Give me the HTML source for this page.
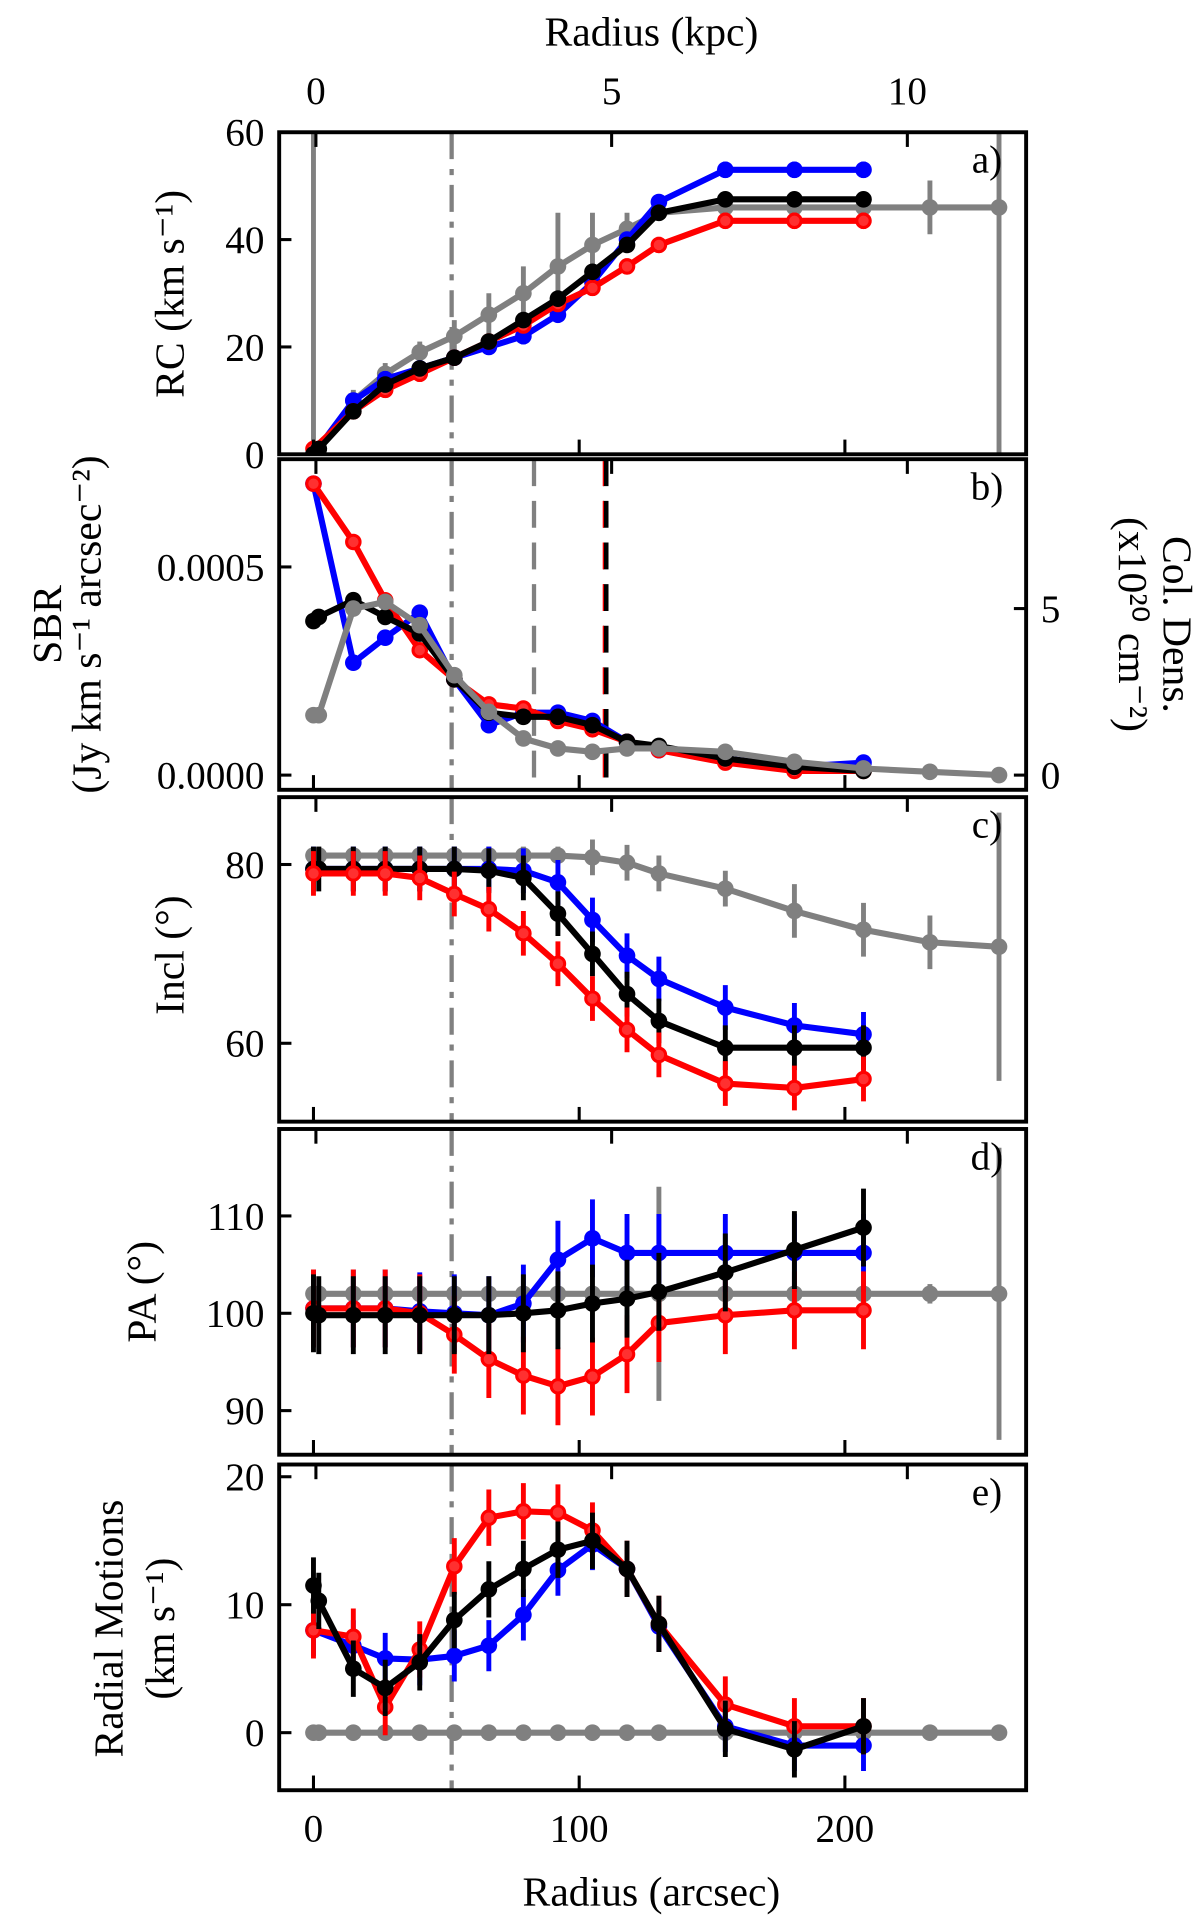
<!DOCTYPE html>
<html><head><meta charset="utf-8">
<style>
html,body{margin:0;padding:0;background:#fff;}
svg{display:block;font-family:"Liberation Serif",serif;}
</style></head>
<body>
<svg id="fig" width="1200" height="1921" viewBox="0 0 980 1568.8" preserveAspectRatio="none" xmlns="http://www.w3.org/2000/svg"></svg>
<script>
// ---------- data ----------
const radii = [0, 2, 15, 27, 40, 53, 66, 79, 92, 105, 118, 130, 155, 181, 207, 232, 258];
const radiiModel = [0, 15, 27, 40, 53, 66, 79, 92, 105, 118, 130, 155, 181, 207];
const radiiBlack = [0, 2, 15, 27, 40, 53, 66, 79, 92, 105, 118, 130, 155, 181, 207];
const radiiGray = [0, 2, 15, 27, 40, 53, 66, 79, 92, 105, 118, 130, 155, 181, 207, 232, 258];

// a) RC
const rcBlue  = [0, 10, 14, 16, 18, 20, 22, 26, 32, 40, 47, 53, 53, 53];
const rcRed   = [1, 8, 12, 15, 18, 21, 24, 28, 31, 35, 39, 43.5, 43.5, 43.5];
const rcBlack = [0, 1, 8, 13, 16, 18, 21, 25, 29, 34, 39, 45, 47.5, 47.5, 47.5];
const rcGray  = [0, 1, 10, 15, 19, 22, 26, 30, 35, 39, 42, 45, 46, 46, 46, 46, 46];
const rcGrayErr = [70, 0, 2, 2, 2, 3, 4, 5, 10, 6, 3, 1, 1, 1, 1, 5, 70];

// b) SBR (left axis) and column density (right axis)
const sbrBlue  = [0.00070, 0.00027, 0.00033, 0.00039, 0.00023, 0.00012, 0.00015, 0.00015, 0.00013, 0.00008, 0.00006, 0.00004, 0.00002, 0.00003];
const sbrRed   = [0.00070, 0.00056, 0.00042, 0.00030, 0.00023, 0.00017, 0.00016, 0.00013, 0.00011, 0.00008, 0.00006, 0.00003, 0.00001, 0.00001];
const sbrBlack = [0.00037, 0.00038, 0.00042, 0.00038, 0.00034, 0.00023, 0.00015, 0.00014, 0.00014, 0.00012, 0.00008, 0.00007, 0.00004, 0.00002, 0.00001];
const colGray  = [1.8, 1.8, 5.0, 5.2, 4.5, 3.0, 1.9, 1.1, 0.8, 0.7, 0.8, 0.8, 0.7, 0.4, 0.2, 0.1, 0.0];

// c) Inclination
const incBlue  = [79.5, 79.5, 79.5, 79.5, 79.5, 79.5, 79.3, 78, 73.8, 69.8, 67.2, 64, 62, 61];
const incRed   = [79, 79, 79, 78.5, 76.7, 75, 72.3, 68.9, 65, 61.5, 58.7, 55.5, 55, 56];
const incBlack = [79.5, 79.5, 79.5, 79.5, 79.5, 79.5, 79.3, 78.5, 74.5, 70, 65.5, 62.5, 59.5, 59.5, 59.5];
const incGray  = [81, 81, 81, 81, 81, 81, 81, 81, 81, 80.8, 80.2, 79, 77.3, 74.8, 72.7, 71.3, 70.8];
const incGrayErr = [1, 1, 1, 1, 1, 1, 1, 1, 1, 2, 2, 2, 2, 3, 3, 3, 15];

// d) Position angle
const paBlue  = [100.5, 100.5, 100.5, 100.2, 100, 99.8, 101, 105.5, 107.7, 106.2, 106.2, 106.2, 106.2, 106.2];
const paRed   = [100.5, 100.5, 100.5, 100, 97.8, 95.3, 93.6, 92.5, 93.5, 95.8, 99, 99.8, 100.3, 100.3];
const paBlack = [100, 99.8, 99.8, 99.8, 99.8, 99.8, 99.8, 100, 100.3, 101, 101.5, 102.2, 104.2, 106.5, 108.8];
const paGray  = [102, 102, 102, 102, 102, 102, 102, 102, 102, 102, 102, 102, 102, 102, 102, 102, 102];
const paGrayErr = [0.5, 0.5, 0.5, 0.5, 0.5, 0.5, 0.5, 0.5, 0.5, 0.5, 0.5, 11, 0.5, 0.5, 0.5, 1, 15];

// e) Radial motions
const vrBlue  = [8, 6.8, 5.8, 5.7, 6, 6.8, 9.2, 12.7, 14.7, 12.8, 8.3, 0.5, -1, -1];
const vrRed   = [8, 7.5, 2, 6.5, 13, 16.8, 17.3, 17.2, 15.8, 12.8, 8.5, 2.2, 0.5, 0.5];
const vrBlack = [11.5, 10.3, 5, 3.5, 5.5, 8.8, 11.2, 12.8, 14.3, 15, 12.8, 8.5, 0.3, -1.3, 0.5];
const vrGray  = [0, 0, 0, 0, 0, 0, 0, 0, 0, 0, 0, 0, 0, 0, 0, 0, 0];

const xTicks = [0, 100, 200];
const kpcTicks = [0, 5, 10];
const rcTicks = [0, 20, 40, 60];
const sbrTicks = [0, 0.0005];
const sbrTickLabels = ["0.0000", "0.0005"];
const colTicks = [0, 5];
const incTicks = [60, 80];
const paTicks = [90, 100, 110];
const vrTicks = [0, 10, 20];

// ---------- layout ----------
const NS = "http://www.w3.org/2000/svg";
const svg = document.getElementById('fig');
const X0 = 228, X1 = 838;
const FS = 32, TS = 34;
const xs = r => 256 + r * 2.17;
const xk = k => 258 + k * 48.3;
function el(tag, attrs, parent) {
  const e = document.createElementNS(NS, tag);
  for (const k in attrs) e.setAttribute(k, attrs[k]);
  (parent || svg).appendChild(e);
  return e;
}
function txt(str, x, y, size, parent, anchor, rot) {
  const t = el('text', {x: x, y: y, 'font-size': size, 'text-anchor': anchor || 'middle', fill: '#000'}, parent);
  if (rot) t.setAttribute('transform', 'rotate(' + rot + ' ' + x + ' ' + y + ')');
  t.textContent = str;
  return t;
}
function lin(v0, p0, v1, p1) { return v => p0 + (v - v0) * (p1 - p0) / (v1 - v0); }

const panels = [
  {id: 'a', top: 108, bot: 371, y: lin(0, 371, 60, 108)},
  {id: 'b', top: 375, bot: 645, y: lin(0, 633, 0.0005, 463)},
  {id: 'c', top: 651, bot: 916, y: lin(60, 852, 80, 706)},
  {id: 'd', top: 922, bot: 1188, y: lin(90, 1152, 110, 993)},
  {id: 'e', top: 1196, bot: 1462, y: lin(0, 1415, 20, 1206)}
];
const colY = lin(0, 633, 5, 497);

function series(g, rs, vals, yf, color, errs, hollow, name) {
  const sg = el('g', {}, g);
  
  
  if (errs) {
    rs.forEach((r, i) => {
      const e = errs[i];
      if (!e) return;
      let y1 = yf(vals[i] - e), y2 = yf(vals[i] + e);
      const lo = Math.min(y1, y2), hi = Math.max(y1, y2);
      el('line', {x1: xs(r), x2: xs(r), y1: lo, y2: hi, stroke: color, 'stroke-width': 4}, sg);
    });
  }
  const pts = rs.map((r, i) => xs(r).toFixed(1) + ',' + yf(vals[i]).toFixed(1)).join(' ');
  const pl = el('polyline', {points: pts, fill: 'none', stroke: color, 'stroke-width': 5, 'stroke-linejoin': 'round'}, sg);
  
  
  rs.forEach((r, i) => {
    const c = el('circle', {cx: xs(r), cy: yf(vals[i]), r: hollow ? 5.5 : 6.8, fill: hollow ? '#ff3030' : color, stroke: color, 'stroke-width': hollow ? 2.5 : 0}, sg);
    
    
  });
}
function constErr(arr, e) { return arr.map(() => e); }

panels.forEach(p => {
  const g = el('g', {});
  
  
  const clip = el('clipPath', {id: 'clip-' + p.id}, g);
  el('rect', {x: X0, y: p.top, width: X1 - X0, height: p.bot - p.top}, clip);
  const plot = el('g', {'clip-path': 'url(#clip-' + p.id + ')'}, g);
  p.plot = plot; p.g = g;
  el('line', {x1: xs(52), x2: xs(52), y1: p.top, y2: p.bot, stroke: '#808080', 'stroke-width': 3.5, 'stroke-dasharray': '22,8,5,8'}, plot);
  xTicks.forEach(t => {
    el('line', {x1: xs(t), x2: xs(t), y1: p.bot, y2: p.bot - 12, stroke: '#000', 'stroke-width': 2.5}, g);
  });
  kpcTicks.forEach(k => {
    el('line', {x1: xk(k), x2: xk(k), y1: p.top, y2: p.top + 12, stroke: '#000', 'stroke-width': 2.5}, g);
  });
  txt(p.id + ')', 806, p.top + 33, FS, g, 'middle');
});

// panel a
{
  const p = panels[0];
  series(p.plot, radiiGray, rcGray, p.y, '#808080', rcGrayErr, false, 'rc-gray-series');
  series(p.plot, radiiModel, rcBlue, p.y, '#0000ff', constErr(rcBlue, 1.5), false, 'rc-blue-series');
  series(p.plot, radiiModel, rcRed, p.y, '#ff0000', constErr(rcRed, 1.5), true, 'rc-red-series');
  series(p.plot, radiiBlack, rcBlack, p.y, '#000000', constErr(rcBlack, 1.2), false, 'rc-black-series');
  rcTicks.forEach(t => { el('line', {x1: X0, x2: X0 + 10, y1: p.y(t), y2: p.y(t), stroke: '#000', 'stroke-width': 2.5}, p.g); txt(String(t), X0 - 12, p.y(t) + 11, FS, p.g, 'end'); });
  kpcTicks.forEach(k => txt(String(k), xk(k), 85, FS, p.g, 'middle'));
  txt('Radius (kpc)', 532, 37, TS, p.g, 'middle');
  txt('RC (km s\u207B\u00B9)', 150, 240, TS, p.g, 'middle', -90);
}
// panel b
{
  const p = panels[1];
  el('line', {x1: xs(83), x2: xs(83), y1: p.top, y2: p.bot, stroke: '#808080', 'stroke-width': 3.5, 'stroke-dasharray': '22,12'}, p.plot);
  el('line', {x1: xs(110), x2: xs(110), y1: p.top, y2: p.bot, stroke: '#000', 'stroke-width': 4.5, 'stroke-dasharray': '22,12'}, p.plot);
  el('line', {x1: xs(110) - 2, x2: xs(110) - 2, y1: p.top, y2: p.bot, stroke: '#ff0000', 'stroke-width': 1, 'stroke-dasharray': '22,12'}, p.plot);
  series(p.plot, radiiModel, sbrBlue, p.y, '#0000ff', null, false, 'sbr-blue-series');
  series(p.plot, radiiModel, sbrRed, p.y, '#ff0000', null, true, 'sbr-red-series');
  series(p.plot, radiiBlack, sbrBlack, p.y, '#000000', null, false, 'sbr-black-series');
  series(p.plot, radiiGray, colGray, colY, '#808080', null, false, 'coldens-gray-series');
  sbrTicks.forEach((t, i) => { el('line', {x1: X0, x2: X0 + 10, y1: p.y(t), y2: p.y(t), stroke: '#000', 'stroke-width': 2.5}, p.g); txt(sbrTickLabels[i], X0 - 12, p.y(t) + 11, FS, p.g, 'end'); });
  colTicks.forEach(t => { el('line', {x1: X1, x2: X1 - 10, y1: colY(t), y2: colY(t), stroke: '#000', 'stroke-width': 2.5}, p.g); txt(String(t), 858, colY(t) + 11, FS, p.g, 'middle'); });
  txt('SBR', 50, 510, TS, p.g, 'middle', -90);
  txt('(Jy km s\u207B\u00B9 arcsec\u207B\u00B2)', 82, 510, TS, p.g, 'middle', -90);
  txt('Col. Dens.', 950, 510, TS, p.g, 'middle', 90);
  txt('(x10\u00B2\u2070 cm\u207B\u00B2)', 914, 510, TS, p.g, 'middle', 90);
}
// panel c
{
  const p = panels[2];
  series(p.plot, radiiGray, incGray, p.y, '#808080', incGrayErr, false, 'incl-gray-series');
  series(p.plot, radiiModel, incBlue, p.y, '#0000ff', constErr(incBlue, 2.5), false, 'incl-blue-series');
  series(p.plot, radiiBlack, incBlack, p.y, '#000000', constErr(incBlack, 2.5), false, 'incl-black-series');
  series(p.plot, radiiModel, incRed, p.y, '#ff0000', constErr(incRed, 2.5), true, 'incl-red-series');
  incTicks.forEach(t => { el('line', {x1: X0, x2: X0 + 10, y1: p.y(t), y2: p.y(t), stroke: '#000', 'stroke-width': 2.5}, p.g); txt(String(t), X0 - 12, p.y(t) + 11, FS, p.g, 'end'); });
  txt('Incl (\u00B0)', 150, 780, TS, p.g, 'middle', -90);
}
// panel d
{
  const p = panels[3];
  series(p.plot, radiiGray, paGray, p.y, '#808080', paGrayErr, false, 'pa-gray-series');
  series(p.plot, radiiModel, paBlue, p.y, '#0000ff', constErr(paBlue, 4), false, 'pa-blue-series');
  series(p.plot, radiiModel, paRed, p.y, '#ff0000', constErr(paRed, 4), true, 'pa-red-series');
  series(p.plot, radiiBlack, paBlack, p.y, '#000000', constErr(paBlack, 4), false, 'pa-black-series');
  paTicks.forEach(t => { el('line', {x1: X0, x2: X0 + 10, y1: p.y(t), y2: p.y(t), stroke: '#000', 'stroke-width': 2.5}, p.g); txt(String(t), X0 - 12, p.y(t) + 11, FS, p.g, 'end'); });
  txt('PA (\u00B0)', 127, 1055, TS, p.g, 'middle', -90);
}
// panel e
{
  const p = panels[4];
  series(p.plot, radiiGray, vrGray, p.y, '#808080', null, false, 'vrad-gray-series');
  series(p.plot, radiiModel, vrBlue, p.y, '#0000ff', constErr(vrBlue, 2), false, 'vrad-blue-series');
  series(p.plot, radiiModel, vrRed, p.y, '#ff0000', constErr(vrRed, 2.2), true, 'vrad-red-series');
  series(p.plot, radiiBlack, vrBlack, p.y, '#000000', constErr(vrBlack, 2.2), false, 'vrad-black-series');
  vrTicks.forEach(t => { el('line', {x1: X0, x2: X0 + 10, y1: p.y(t), y2: p.y(t), stroke: '#000', 'stroke-width': 2.5}, p.g); txt(String(t), X0 - 12, p.y(t) + 11, FS, p.g, 'end'); });
  xTicks.forEach(t => txt(String(t), xs(t), 1504, FS, p.g, 'middle'));
  txt('Radius (arcsec)', 532, 1556, TS, p.g, 'middle');
  txt('Radial Motions', 100, 1330, TS, p.g, 'middle', -90);
  txt('(km s\u207B\u00B9)', 142, 1330, TS, p.g, 'middle', -90);
}
panels.forEach(p => {
  const r = el('rect', {x: X0, y: p.top, width: X1 - X0, height: p.bot - p.top, fill: 'none', stroke: '#000', 'stroke-width': 3.2}, p.g);
  
  
});
</script>
</body></html>
